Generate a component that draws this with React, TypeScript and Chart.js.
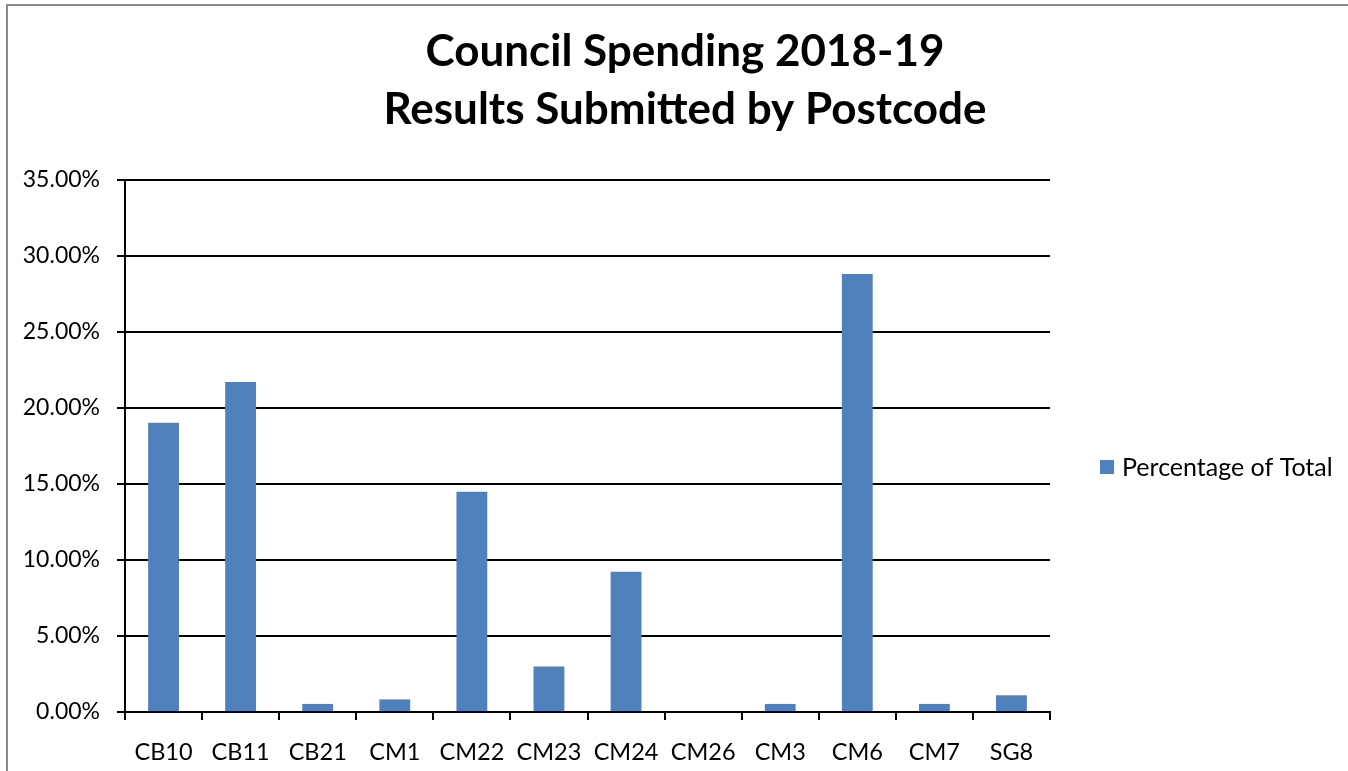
import React, { useEffect, useRef } from 'react';
import { Chart, registerables } from 'chart.js';

Chart.register(...registerables);

const categories = ['CB10', 'CB11', 'CB21', 'CM1', 'CM22', 'CM23', 'CM24', 'CM26', 'CM3', 'CM6', 'CM7', 'SG8'];
const percentageOfTotal = [19.03, 21.71, 0.53, 0.83, 14.49, 3.0, 9.23, 0, 0.53, 28.82, 0.53, 1.1];
const seriesLabel = 'Percentage of Total';
const titleLines = ['Council Spending 2018-19', 'Results Submitted by Postcode'];
const yMin = 0;
const yMax = 35;
const yStep = 5;

const BAR_COLOR = '#4F81BD';
const FONT = 'Lato';

const sideLegend = {
  id: 'sideLegend',
  afterDraw(chart: any) {
    const ctx = chart.ctx;
    const ds = chart.data.datasets[0];
    const x = chart.chartArea.right + 50;
    const y = 467;
    ctx.save();
    ctx.fillStyle = ds.backgroundColor;
    ctx.fillRect(x, y - 7, 14, 14);
    ctx.fillStyle = '#000';
    ctx.font = `25px ${FONT}`;
    ctx.textBaseline = 'middle';
    ctx.textAlign = 'left';
    ctx.fillText(ds.label, x + 22, y + 1);
    ctx.restore();
  },
};

export default function App() {
  const canvasRef = useRef<HTMLCanvasElement | null>(null);

  useEffect(() => {
    document.body.style.margin = '0';
    const canvas = canvasRef.current;
    if (!canvas) return;
    Chart.defaults.font.family = FONT;
    Chart.defaults.color = '#000';
    const chart = new Chart(canvas, {
      type: 'bar',
      data: {
        labels: categories,
        datasets: [
          {
            label: seriesLabel,
            data: percentageOfTotal,
            backgroundColor: BAR_COLOR,
            borderWidth: 0,
            barPercentage: 0.4,
            categoryPercentage: 1.0,
            yAxisID: 'y',
          },
        ],
      },
      options: {
        responsive: false,
        animation: false,
        devicePixelRatio: 1,
        layout: { padding: { left: 22, right: 0, top: 0, bottom: 0 } },
        plugins: {
          legend: { display: false },
          tooltip: { enabled: false },
          title: {
            display: true,
            text: titleLines,
            color: '#000',
            font: { family: FONT, size: 44, weight: 'bold', lineHeight: 58 / 44 },
            padding: { top: 23, bottom: 41 },
          },
        },
        scales: {
          x: {
            type: 'category',
            offset: true,
            grid: {
              display: true,
              offset: true,
              drawOnChartArea: false,
              drawTicks: true,
              tickLength: 8,
              color: '#000',
              lineWidth: 2,
            },
            border: { display: true, color: '#000', width: 2 },
            ticks: { color: '#000', font: { family: FONT, size: 23.5 }, padding: 18, maxRotation: 0, autoSkip: false },
            afterFit: (s: any) => {
              s.height = 59;
            },
          },
          y: {
            type: 'linear',
            position: 'left',
            min: yMin,
            max: yMax,
            grid: { color: '#000', lineWidth: 2, tickLength: 8, drawTicks: true },
            border: { display: true, color: '#000', width: 2 },
            ticks: {
              stepSize: yStep,
              color: '#000',
              font: { family: FONT, size: 23 },
              padding: 17,
              callback: (v: any) => Number(v).toFixed(2) + '%',
            },
            afterFit: (s: any) => {
              s.width = 103;
            },
          },
          yRight: {
            type: 'linear',
            position: 'right',
            display: true,
            grid: { display: false, drawTicks: false },
            border: { display: false },
            ticks: { display: false },
            afterFit: (s: any) => {
              s.width = 298;
            },
          },
        },
      },
      plugins: [sideLegend],
    } as any);
    return () => chart.destroy();
  }, []);

  return (
    <div style={{ position: 'fixed', left: 0, top: 0, width: 1348, height: 771, overflow: 'hidden', background: '#fff' }}>
      <div
        style={{
          position: 'absolute',
          left: 6,
          top: 4,
          width: 2000,
          height: 2000,
          borderLeft: '2px solid #8a8a8a',
          borderTop: '2px solid #8a8a8a',
        }}
      />
      <canvas
        ref={canvasRef}
        width={1348}
        height={771}
        style={{ position: 'absolute', left: 0, top: 0, width: 1348, height: 771, display: 'block' }}
      />
    </div>
  );
}
